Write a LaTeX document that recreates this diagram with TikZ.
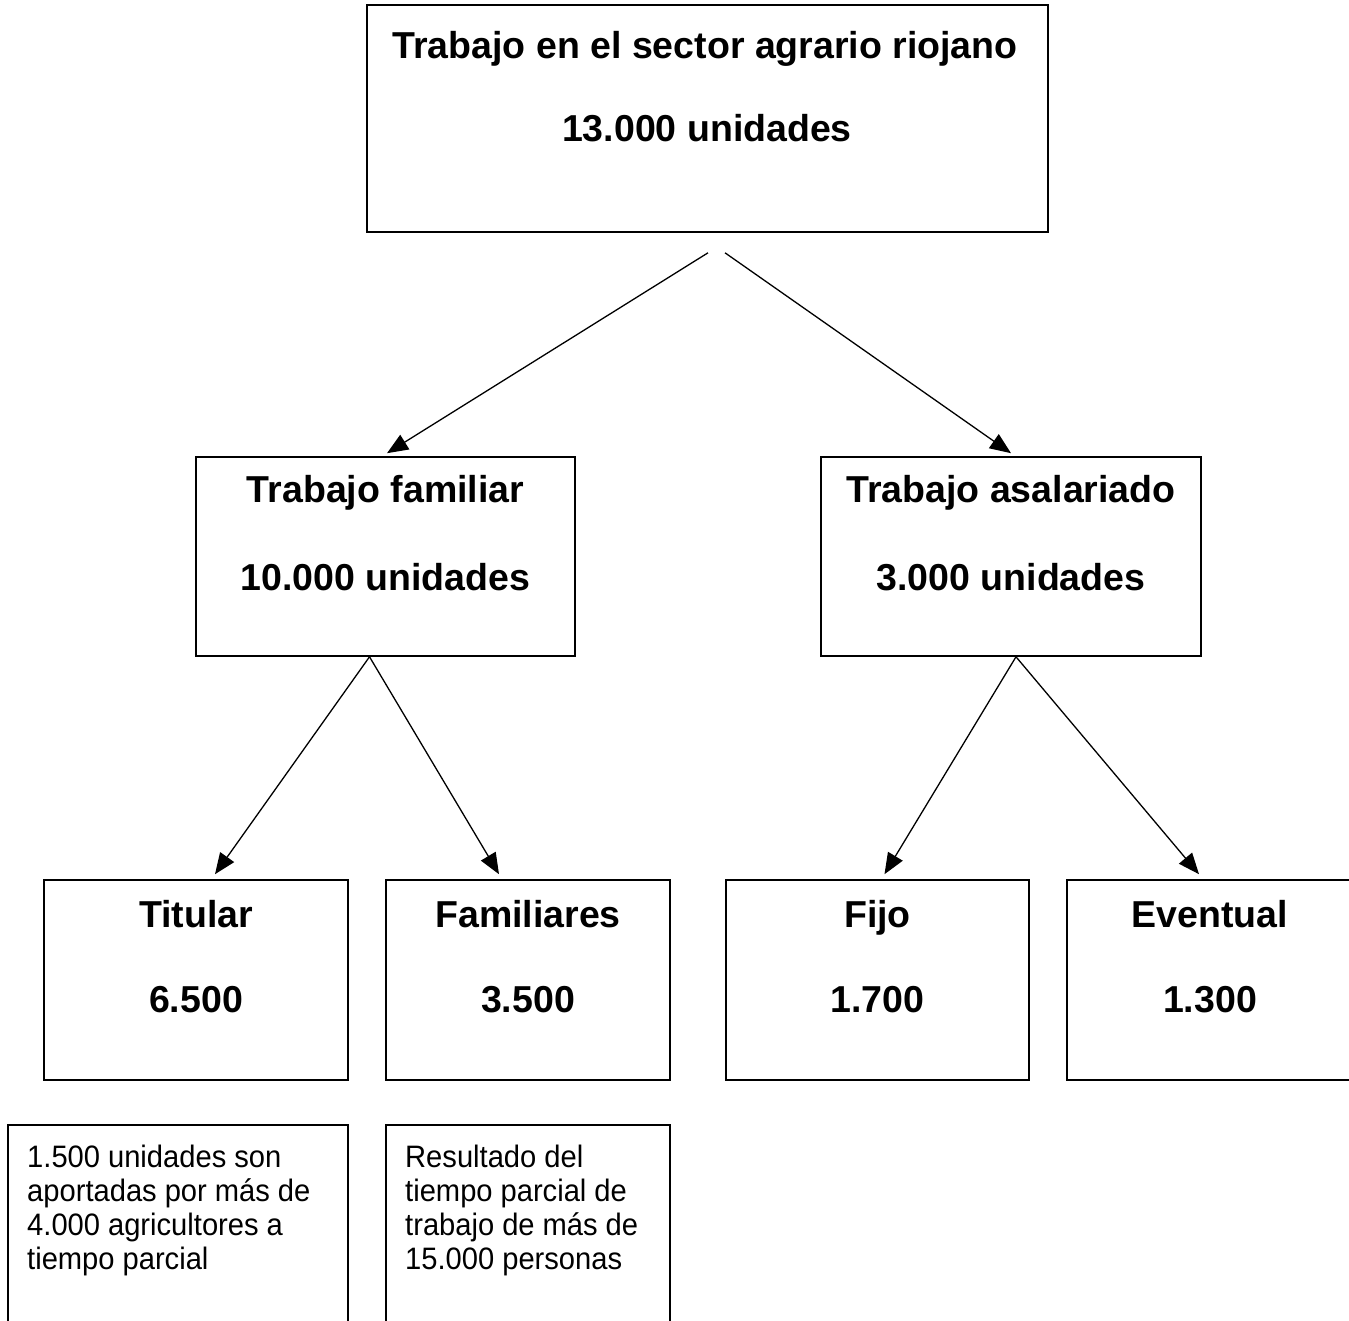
\documentclass[tikz,border=0pt]{standalone}
\usepackage{fontspec}
\setmainfont{Liberation Sans}
\newfontfamily\notefont[FakeStretch=0.94]{Liberation Sans}
\usetikzlibrary{arrows.meta}
\tikzset{
  box/.style={draw=black, line width=1.6pt, inner sep=0pt},
  big/.style={font=\bfseries\fontsize{37.5}{40}\selectfont, inner sep=0pt, anchor=base},
  small/.style={font=\notefont\fontsize{31}{34}\selectfont, inner sep=0pt, anchor=base west, align=left,
    execute at begin node={\spaceskip=8pt\relax}},
  arr/.style={line width=1.3pt, -{Triangle[length=21pt,width=17pt]}},
}
\begin{document}
\begin{tikzpicture}[x=1pt,y=-1pt]
\useasboundingbox (0,0) rectangle (1349,1321);
\clip (0,0) rectangle (1349,1321);
% boxes
\node[box, minimum width=681pt, minimum height=227pt] (top) at (707.5,118.5) {};
\node[box, minimum width=379pt, minimum height=199pt] (fam) at (385.5,556.5) {};
\node[box, minimum width=380pt, minimum height=199pt] (asa) at (1011,556.5) {};
\node[box, minimum width=304pt, minimum height=200pt] (tit) at (196,980) {};
\node[box, minimum width=284pt, minimum height=200pt] (fams) at (528,980) {};
\node[box, minimum width=303pt, minimum height=200pt] (fijo) at (877.5,980) {};
\node[box, minimum width=300pt, minimum height=200pt] (even) at (1217,980) {};
\node[box, minimum width=340pt, minimum height=220pt] (notea) at (178,1235) {};
\node[box, minimum width=284pt, minimum height=220pt] (noteb) at (528,1235) {};
% texts
\node[big] (t1) at (705,59) {Trabajo en el sector agrario riojano};
\node[big] (t2) at (707,142) {13.000 unidades};
\node[big] (f1) at (385.5,502) {Trabajo familiar};
\node[big] (f2) at (385.5,590) {10.000 unidades};
\node[big] (a1) at (1011,502) {Trabajo asalariado};
\node[big] (a2) at (1011,590) {3.000 unidades};
\node[big] (ti1) at (196,927) {Titular};
\node[big] (ti2) at (196,1012) {6.500};
\node[big] (fa1) at (528,927) {Familiares};
\node[big] (fa2) at (528,1012) {3.500};
\node[big] (fi1) at (877.5,927) {Fijo};
\node[big] (fi2) at (877.5,1012) {1.700};
\node[big] (ev1) at (1210,927) {Eventual};
\node[big] (ev2) at (1210,1012) {1.300};
\node[small, text width=320pt] (na) at (27,1167) {1.500 unidades son\\aportadas por más de\\4.000 agricultores a\\tiempo parcial};
\node[small, text width=260pt] (nb) at (405,1167) {Resultado del\\tiempo parcial de\\trabajo de más de\\15.000 personas};
% connector start points
\coordinate (s1) at ([xshift=0.5pt,yshift=-20pt]top.south);
\coordinate (s2) at ([xshift=17.5pt,yshift=-20pt]top.south);
\coordinate (s3) at ([xshift=-16pt]fam.south);
\coordinate (s4) at ([xshift=5pt]asa.south);
% arrows
\draw[arr] (s1) -- ([xshift=1.5pt,yshift=3pt]fam.north);
\draw[arr] (s2) -- ([xshift=0pt,yshift=3pt]asa.north);
\draw[arr] (s3) -- ([xshift=19pt,yshift=5pt]tit.north);
\draw[arr] (s3) -- ([xshift=-29pt,yshift=5pt]fams.north);
\draw[arr] (s4) -- ([xshift=7pt,yshift=5pt]fijo.north);
\draw[arr] (s4) -- ([xshift=-18pt,yshift=5pt]even.north);
\end{tikzpicture}
\end{document}
